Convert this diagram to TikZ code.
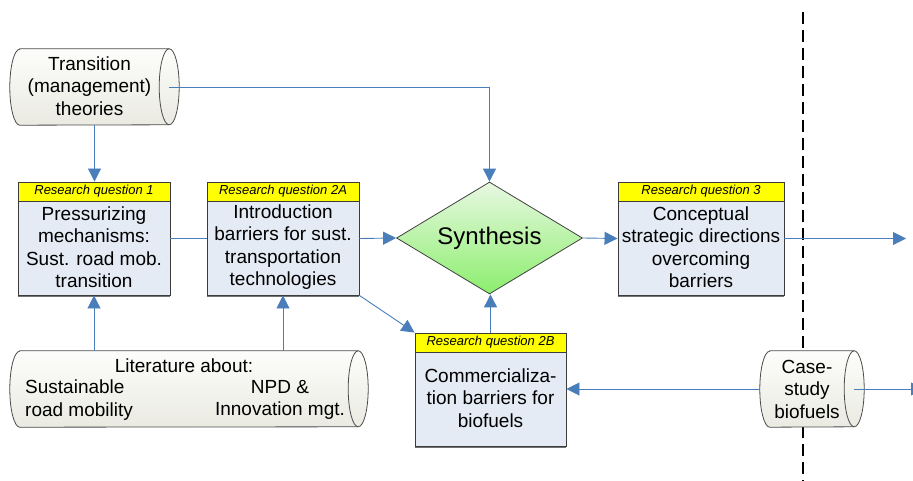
\documentclass[tikz,border=0pt]{standalone}
\usepackage{fontspec}
\setmainfont{Liberation Sans}
\usetikzlibrary{arrows.meta,shapes.geometric,calc}
\definecolor{arrowblue}{RGB}{74,126,187}
\definecolor{boxblue}{RGB}{228,235,245}
\definecolor{boxline}{RGB}{60,60,60}
\definecolor{hdryellow}{RGB}{255,255,0}
\definecolor{cyltop}{RGB}{253,253,251}
\definecolor{cylbot}{RGB}{234,234,226}
\definecolor{syntop}{RGB}{232,248,226}
\definecolor{synbot}{RGB}{140,238,110}
\tikzset{
 conn/.style={draw=arrowblue, line width=0.9pt},
 arr/.style={conn, -{Triangle[length=13pt,width=13pt]}},
 rqbox/.style={draw=boxline, fill=boxblue, line width=0.9pt, minimum height=113pt, inner sep=0pt},
 rqhead/.style={draw=boxline, fill=hdryellow, line width=0.9pt, minimum height=19pt, inner sep=0pt, font=\fontsize{13}{15}\selectfont\itshape, anchor=north},
 bodytext/.style={align=center, font=\fontsize{19}{22.5}\selectfont, inner sep=0pt},
 cylframe/.style={minimum height=76pt, inner sep=0pt},
 cylshape/.style={draw=black!70, line width=0.8pt, top color=cyltop, bottom color=cylbot},
 synshape/.style={diamond, aspect=1.66, draw=black!75, line width=0.8pt, top color=syntop, bottom color=synbot, minimum width=186pt, minimum height=112pt, inner sep=0pt, font=\fontsize{24}{28}\selectfont},
 divider/.style={draw=black, line width=1.6pt, dash pattern=on 12pt off 6pt},
 shadowline/.style={draw=black!55, line width=1.2pt},
}
\newcommand\cylout[1]{%
 \path[cylshape] ([xshift=10pt]#1.north west) -- ([xshift=-10pt]#1.north east)
   arc[start angle=90,end angle=-90,x radius=10pt,y radius=38pt]
   -- ([xshift=10pt]#1.south west)
   arc[start angle=270,end angle=90,x radius=10pt,y radius=38pt] -- cycle;
 \draw[black!70, line width=0.8pt] ([xshift=-10pt]#1.north east)
   arc[start angle=90,end angle=270,x radius=10pt,y radius=38pt];}
\begin{document}
\begin{tikzpicture}[x=1pt,y=-1pt]
\useasboundingbox (0,0) rectangle (913,481);
\clip (0,0) rectangle (913,481);
% divider
\coordinate (dtop) at (803,12);
\coordinate (dbot) at (803,481);
\draw[divider] (dtop) -- (dbot);
% cylinders
\node[cylframe, minimum width=169pt] (trans) at (94.5,87) {};
\cylout{trans}
\node[bodytext] (transtxt) at (89.5,86) {Transition\\(management)\\theories};
\node[cylframe, minimum width=358pt] (lit) at (189,389) {};
\cylout{lit}
\node[bodytext] (littxt) at (184,366) {Literature about:};
\node[bodytext, align=left, anchor=west] (littxtl) at (25,400) {Sustainable\\road mobility};
\node[bodytext] (littxtr) at (280,400) {NPD \&\\Innovation mgt.};
\node[cylframe, minimum width=104pt] (case) at (812,389) {};
\cylout{case}
\node[bodytext] (casetxt) at (807,389) {Case-\\study\\biofuels};
% research question boxes
\node[rqbox, minimum width=152pt] (rq1) at (94,238.5) {};
\draw[shadowline] ([yshift=-1pt]rq1.south west) -- ([yshift=-1pt]rq1.south east);
\node[rqhead, minimum width=152pt] (rq1h) at (rq1.north) {Research question 1};
\node[bodytext] (rq1t) at (94,247) {Pressurizing\\mechanisms:\\Sust. road mob.\\transition};
\node[rqbox, minimum width=152pt] (rq2a) at (283,238.5) {};
\draw[shadowline] ([yshift=-1pt]rq2a.south west) -- ([yshift=-1pt]rq2a.south east);
\node[rqhead, minimum width=152pt] (rq2ah) at (rq2a.north) {Research question 2A};
\node[bodytext] (rq2at) at (283,247) {Introduction\\barriers for sust.\\transportation\\technologies};
\node[rqbox, minimum width=166pt] (rq3) at (701,238.5) {};
\draw[shadowline] ([yshift=-1pt]rq3.south west) -- ([yshift=-1pt]rq3.south east);
\node[rqhead, minimum width=166pt] (rq3h) at (rq3.north) {Research question 3};
\node[bodytext] (rq3t) at (701,247) {Conceptual\\strategic directions\\overcoming\\barriers};
\node[rqbox, minimum width=151pt] (rq2b) at (490.5,389.5) {};
\draw[shadowline] ([yshift=-1pt]rq2b.south west) -- ([yshift=-1pt]rq2b.south east);
\node[rqhead, minimum width=151pt] (rq2bh) at (rq2b.north) {Research question 2B};
\node[bodytext] (rq2bt) at (490.5,398) {Commercializa-\\tion barriers for\\biofuels};
% synthesis
\node[synshape] (syn) at (489.5,238) {Synthesis};
% free ends
\coordinate (rq3out) at (906,238.5);
\coordinate (caseout) at (924,389);
% connectors
\draw[arr] (trans.south) -- (trans.south |- rq1.north);
\draw[arr] ([xshift=-10pt]trans.east) -| (syn.north);
\draw[conn] (rq1.east) -- (rq2a.west);
\draw[arr] (rq2a.east) -- (syn.west);
\draw[arr] (syn.east) -- (rq3.west);
\draw[arr] (rq3.east) -- (rq3out);
\draw[arr] (rq2a.south east) -- (rq2b.north west);
\draw[arr] (rq2b.north) -- (rq2b.north |- syn.south);
\draw[arr] (lit.north -| rq1.south) -- (rq1.south);
\draw[arr] (lit.north -| rq2a.south) -- (rq2a.south);
\draw[arr] (case.west) -- (case.west -| rq2b.east);
\draw[arr] ([xshift=-10pt]case.east) -- (caseout);
\end{tikzpicture}
\end{document}
